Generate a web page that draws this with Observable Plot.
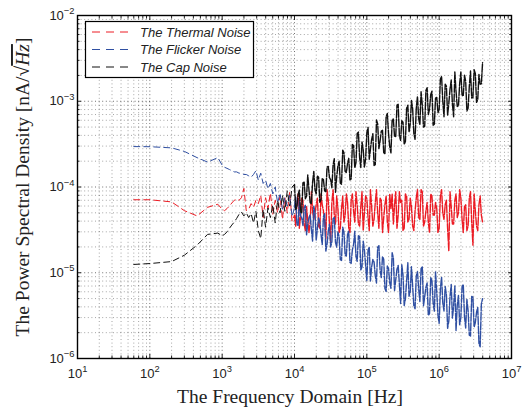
<!DOCTYPE html>
<html><head><meta charset="utf-8">
<script src="https://cdn.jsdelivr.net/npm/d3@7"></script>
<script src="https://cdn.jsdelivr.net/npm/@observablehq/plot@0.6"></script>
<style>body{margin:0;background:#fff}#chart{width:524px;height:410px}</style>
</head><body><div id="chart"></div>
<script>
// Frequencies (Hz)
const freq = [60,100,200,300,450,630,870,
1000,1080,1166,1259,1359,1468,1585,1711,1848,1995,2154,2326,2512,2712,2929,3162,3415,3687,3981,4299,4642,5012,5412,5843,6310,6813,7356,7943,8577,9261,
10000,10391,10798,11220,11659,12115,12589,13081,13594,14125,14678,15252,15849,16469,17113,17783,18478,19201,19953,20733,21544,22387,23263,24173,25119,26102,27123,28184,29286,30432,31623,32860,34145,35481,36869,38311,39811,41369,42987,44668,46416,48232,50119,52080,54117,56234,58434,60720,63096,65564,68129,70795,73564,76442,79433,82540,85770,89125,92612,96235,
100000,103912,107977,112202,116591,121153,125893,130818,135936,141254,146780,152522,158489,164690,171133,177828,184785,192014,199526,207332,215443,223872,232631,241732,251189,261016,271227,281838,292864,304322,316228,328599,341455,354813,368695,383119,398107,413682,429866,446684,464159,482318,501187,520795,541170,562341,584341,607202,630957,655642,681292,707946,735642,764422,794328,825404,857696,891251,926119,962351,
1000000,1039122,1079775,1122018,1165914,1211528,1258925,1308167,1359356,1412538,1467799,1525210,1584893,1646914,1711328,1778279,1847850,1920087,1995262,2073272,2154435,2238721,2326305,2417330,2511886,2610157,2712273,2818383,2928645,3043248,3162278,3285907,3414549,3548134,3686945,3831187,3981072];

// The Thermal Noise
const thermal = [7.1e-5,7.1e-5,6.7e-5,5.3e-5,4.6e-5,5.8e-5,6.3e-5,
5.5e-5,5.3e-5,5.6e-5,6.0e-5,6.5e-5,7.0e-5,7.2e-5,7.0e-5,7.5e-5,9.6e-5,5.3e-5,5.5e-5,6.4e-5,5.8e-5,7.0e-5,6.4e-5,8.0e-5,4.4e-5,7.5e-5,5.6e-5,8.5e-5,4.8e-5,7.0e-5,5.0e-5,8.0e-5,4.2e-5,7.5e-5,5.0e-5,8.8e-5,4.0e-5,
4.7e-5,3.5e-5,6.6e-5,8.3e-5,3.3e-5,4.4e-5,7.4e-5,7.0e-5,3.7e-5,3.1e-5,5.9e-5,4.0e-5,2.95e-5,3.9e-5,8.8e-5,5.2e-5,4.2e-5,5.0e-5,6.2e-5,7.4e-5,
3.5e-5,3.3e-5,8.3e-5,6.2e-5,5.25e-5,4.2e-5,2.5e-5,9.3e-5,7.0e-5,3.7e-5,2.3e-5,6.6e-5,9.3e-5,4.7e-5,3.7e-5,7.85e-5,5.6e-5,2.95e-5,3.3e-5,5.6e-5,
7.85e-5,3.9e-5,4.7e-5,8.3e-5,6.6e-5,3.3e-5,2.95e-5,7.0e-5,8.3e-5,5.25e-5,3.9e-5,8.8e-5,6.2e-5,3.7e-5,3.5e-5,5.9e-5,8.8e-5,3.1e-5,5.0e-5,7.85e-5,
7.4e-5,4.4e-5,3.1e-5,9.3e-5,5.9e-5,3.5e-5,4.2e-5,6.6e-5,9.3e-5,5.0e-5,3.3e-5,7.4e-5,7.0e-5,2.95e-5,4.4e-5,6.2e-5,7.85e-5,3.9e-5,2.95e-5,8.3e-5,
5.6e-5,8.3e-5,3.7e-5,6.2e-5,8.8e-5,3.3e-5,4.7e-5,8.8e-5,6.6e-5,7.0e-5,3.1e-5,3.3e-5,8.3e-5,7.85e-5,3.9e-5,4.2e-5,7.4e-5,5.9e-5,3.5e-5,3.1e-5,
5.25e-5,7.4e-5,9.3e-5,4.4e-5,4.2e-5,9.3e-5,8.8e-5,3.5e-5,3.9e-5,5.25e-5,6.6e-5,3.9e-5,2.95e-5,8.3e-5,7.85e-5,4.7e-5,4.7e-5,6.6e-5,5.6e-5,2.95e-5,
3.3e-5,7.85e-5,9.3e-5,5.0e-5,4.2e-5,6.2e-5,7.0e-5,3.3e-5,1.8e-5,8.8e-5,5.9e-5,3.7e-5,3.7e-5,7.0e-5,8.3e-5,4.4e-5,5.0e-5,9.3e-5,7.4e-5,4.2e-5,
2.95e-5,5.9e-5,6.2e-5,3.1e-5,3.5e-5,7.4e-5,8.8e-5,3.9e-5,2.1e-5,8.3e-5,5.25e-5,3.5e-5,3.1e-5,6.2e-5,7.85e-5,4.7e-5,3.9e-5];

// The Flicker Noise
const flicker = [2.96e-4,2.95e-4,2.86e-4,2.6e-4,2.2e-4,1.95e-4,2.2e-4,
1.8e-4,1.7e-4,1.65e-4,1.6e-4,1.55e-4,1.5e-4,1.5e-4,1.45e-4,1.45e-4,1.4e-4,1.4e-4,1.35e-4,1.3e-4,1.4e-4,1.55e-4,1.2e-4,1.45e-4,1.1e-4,1.2e-4,9.5e-5,1.1e-4,8.3e-5,1.0e-4,6.5e-5,8.5e-5,5.5e-5,7.5e-5,6.0e-5,8.0e-5,4.5e-5,
5.8e-5,7.64e-5,3.66e-5,3.57e-5,6.95e-5,4.62e-5,4.34e-5,3.56e-5,5.7e-5,6.12e-5,2.77e-5,3.73e-5,4.4e-5,4.73e-5,3.18e-5,2.34e-5,5.97e-5,5.07e-5,2.39e-5,3.3e-5,
4.36e-5,3.86e-5,2.8e-5,2.13e-5,4.5e-5,4.89e-5,1.79e-5,2.15e-5,3.04e-5,3.67e-5,2.0e-5,2.3e-5,4.26e-5,4.4e-5,2.27e-5,1.99e-5,2.99e-5,2.63e-5,1.42e-5,1.39e-5,
3.4e-5,2.98e-5,1.61e-5,1.57e-5,2.79e-5,3.04e-5,1.32e-5,1.29e-5,1.85e-5,2.13e-5,3.05e-5,1.55e-5,1.36e-5,2.7e-5,2.64e-5,1.08e-5,1.17e-5,2.34e-5,1.84e-5,1.22e-5,
8.1e-6,1.83e-5,2.0e-5,8.0e-6,1.17e-5,1.43e-5,1.33e-5,9.25e-6,7.6e-6,1.99e-5,2.07e-5,1.07e-5,8.8e-6,1.55e-5,1.44e-5,6.55e-6,6.05e-6,1.2e-5,1.12e-5,7.64e-6,
6.6e-6,1.71e-5,1.49e-5,6.22e-6,8.3e-6,1.1e-5,1.22e-5,7.33e-6,4.37e-6,1.24e-5,9.5e-6,4.15e-6,4.93e-6,8.0e-6,1.31e-5,5.33e-6,5.96e-6,1.18e-5,6.98e-6,4.13e-6,
3.81e-6,9.2e-6,1.03e-5,6.47e-6,4.62e-6,1.12e-5,1.18e-5,4.13e-6,5.27e-6,6.75e-6,7.6e-6,3.18e-6,3.34e-6,8.83e-6,8.1e-6,4.44e-6,3.57e-6,1.02e-5,5.9e-6,3.2e-6,
2.57e-6,6.44e-6,8.9e-6,4.46e-6,3.58e-6,6.92e-6,5.56e-6,2.25e-6,2.72e-6,5.3e-6,7.3e-6,2.96e-6,4.1e-6,7.03e-6,2.12e-6,4.19e-6,5.45e-6,2.48e-6,3.01e-6,6.89e-6,
7.3e-6,3.06e-6,2.27e-6,4.89e-6,3.61e-6,1.87e-6,1.83e-6,5.3e-6,5.2e-6,2.32e-6,2.63e-6,3.46e-6,3.94e-6,1.5e-6,1.37e-6,4.35e-6,4.97e-6];

// The Cap Noise
const cap = [1.25e-5,1.28e-5,1.35e-5,1.6e-5,2.1e-5,2.8e-5,2.9e-5,
2.7e-5,2.8e-5,3.0e-5,3.3e-5,3.6e-5,3.9e-5,4.3e-5,4.8e-5,5.1e-5,4.6e-5,5.0e-5,4.4e-5,4.9e-5,3.8e-5,5.2e-5,3.1e-5,2.5e-5,5.5e-5,3.4e-5,5.7e-5,4.4e-5,6.2e-5,3.8e-5,7.0e-5,5.0e-5,8.0e-5,5.2e-5,9.0e-5,6.0e-5,1.0e-4,
1.07e-4,5.47e-5,5.83e-5,8.2e-5,9.2e-5,5.14e-5,5.0e-5,1.12e-4,1.14e-4,7.3e-5,7.8e-5,1.38e-4,9.3e-5,6.56e-5,6.4e-5,1.13e-4,1.52e-4,9.3e-5,8.3e-5,1.34e-4,
1.3e-4,6.65e-5,7.1e-5,1.26e-4,1.22e-4,9.0e-5,8.8e-5,1.71e-4,1.74e-4,1.29e-4,1.21e-4,9.8e-5,1.8e-4,2.14e-4,8.7e-5,1.32e-4,1.75e-4,2.0e-4,1.11e-4,1.08e-4,
2.69e-4,2.5e-4,1.52e-4,1.48e-4,1.88e-4,2.16e-4,1.21e-4,1.24e-4,3.13e-4,3.05e-4,1.67e-4,1.93e-4,4.2e-4,4.37e-4,2.22e-4,1.69e-4,3.35e-4,2.72e-4,1.71e-4,2.11e-4,
4.3e-4,4.95e-4,2.11e-4,2.77e-4,3.6e-4,4.18e-4,1.78e-4,1.82e-4,6.05e-4,5.45e-4,2.8e-4,3.44e-4,4.5e-4,4.59e-4,2.52e-4,2.42e-4,6.65e-4,7.2e-4,4.2e-4,2.96e-4,
2.5e-4,6.1e-4,6.2e-4,3.85e-4,3.9e-4,9.0e-4,9.2e-4,3.92e-4,3.5e-4,5.93e-4,5.7e-4,3.13e-4,3.4e-4,8.3e-4,9.0e-4,4.37e-4,5.4e-4,1.02e-3,8.2e-4,4.2e-4,
3.6e-4,8.2e-4,1.14e-3,6.26e-4,5.3e-4,1.29e-3,9.1e-4,5.0e-4,5.1e-4,1.33e-3,1.44e-3,7.0e-4,8.1e-4,1.2e-3,1.31e-3,5.25e-4,5.4e-4,1.09e-3,1.11e-3,7.35e-4,
8.0e-4,1.81e-3,1.95e-3,1.0e-3,6.6e-4,1.58e-3,1.5e-3,6.9e-4,9.4e-4,1.38e-3,1.77e-3,9.3e-4,6.6e-4,2.19e-3,1.3e-3,8.7e-4,8.8e-4,1.61e-3,2.19e-3,1.16e-3,
1.17e-3,2.01e-3,1.71e-3,7.7e-4,8.3e-4,1.49e-3,2.25e-3,1.09e-3,1.1e-3,2.33e-3,2.11e-3,9.7e-4,1.04e-3,2.06e-3,1.58e-3,1.6e-3,2.82e-3];

const seriesNames = ["The Thermal Noise","The Flicker Noise","The Cap Noise"];
const seriesColors = ["#ec1c24","#2f4fa2","#111111"];
const xMajor = [1e1,1e2,1e3,1e4,1e5,1e6,1e7];
const yMajor = [1e-6,1e-5,1e-4,1e-3,1e-2];

const mult = [2,3,4,5,6,7,8,9];
const xMinor = xMajor.slice(0,-1).flatMap(d => mult.map(m => m*d));
const yMinor = yMajor.slice(0,-1).flatMap(d => mult.map(m => m*d));

const data = freq.map((f,i) => ({f, thermal: thermal[i], flicker: flicker[i], cap: cap[i]}));
const keys = ["thermal","flicker","cap"];
const fmt = d => "10^" + Math.round(Math.log10(d));
const blank = () => "";
const gridStyle = {stroke:"#000", strokeWidth:0.8, strokeDasharray:"1,2.6"};

const lineMarks = keys.flatMap((k,i) => [
  Plot.lineY(data, {filter: d => d.f <= 10000, x:"f", y:k, stroke:seriesColors[i], strokeWidth:1, strokeDasharray:"6,4"}),
  Plot.lineY(data, {filter: d => d.f >= 10000, x:"f", y:k, stroke:seriesColors[i], strokeWidth:1.4, strokeDasharray:"8,1.5"})
]);

const chart = Plot.plot({
  width: 524, height: 410,
  marginTop: 15, marginRight: 13, marginBottom: 52, marginLeft: 77,
  style: {background:"#fff", fontFamily:"'Liberation Sans', Arial, sans-serif", fontSize:"13px", color:"#222"},
  x: {type:"log", domain:[1e1,1e7], label:null},
  y: {type:"log", domain:[1e-6,1e-2], label:null},
  marks: [
    Plot.ruleX(xMinor, {...gridStyle, strokeOpacity:0.45}),
    Plot.ruleX(xMajor, {...gridStyle, strokeOpacity:0.7}),
    Plot.ruleY(yMinor, {...gridStyle, strokeOpacity:0.45}),
    Plot.ruleY(yMajor, {...gridStyle, strokeOpacity:0.7}),
    ...lineMarks,
    Plot.axisX(xMajor, {anchor:"bottom", tickSize:0, tickPadding:10, tickFormat:fmt, label:null}),
    Plot.axisY(yMajor, {anchor:"left", tickSize:0, tickPadding:3, tickFormat:fmt, label:null}),
    Plot.axisX(xMajor, {anchor:"bottom", tickSize:-4, tickFormat:blank, label:null}),
    Plot.axisX(xMajor, {anchor:"top", tickSize:-4, tickFormat:blank, label:null}),
    Plot.axisX(xMinor, {anchor:"bottom", tickSize:-2.5, tickFormat:blank, label:null}),
    Plot.axisX(xMinor, {anchor:"top", tickSize:-2.5, tickFormat:blank, label:null}),
    Plot.axisY(yMajor, {anchor:"left", tickSize:-4, tickFormat:blank, label:null}),
    Plot.axisY(yMajor, {anchor:"right", tickSize:-4, tickFormat:blank, label:null}),
    Plot.axisY(yMinor, {anchor:"left", tickSize:-2.5, tickFormat:blank, label:null}),
    Plot.axisY(yMinor, {anchor:"right", tickSize:-2.5, tickFormat:blank, label:null}),
    Plot.frame({stroke:"#000", strokeWidth:1.4})
  ]
});
document.getElementById("chart").appendChild(chart);

const svg = d3.select(chart.tagName.toLowerCase() === "svg" ? chart : chart.querySelector("svg"));

// superscript exponents in tick labels
svg.selectAll("text").each(function() {
  const t = d3.select(this);
  if (this.querySelector("tspan")) return;
  const s = t.text();
  if (!/^10\^/.test(s)) return;
  const e = s.split("^")[1].replace("-", "\u2212");
  t.text(null);
  t.append("tspan").text("10");
  t.append("tspan").attr("dy", "-0.6em").attr("font-size", "0.72em").text(e);
});

// axis titles
const serif = "'Liberation Serif', 'Times New Roman', serif";
svg.append("text").attr("x", 290).attr("y", 403).attr("text-anchor", "middle")
  .attr("font-family", serif).attr("font-size", 19.5).attr("fill", "#222")
  .text("The Frequency Domain [Hz]");
const yt = svg.append("text").attr("transform", "translate(29,187) rotate(-90)")
  .attr("text-anchor", "middle").attr("font-family", serif).attr("font-size", 19.5).attr("fill", "#222");
yt.append("tspan").text("The Power Spectral Density [nA/\u221A");
yt.append("tspan").attr("font-style", "italic").attr("text-decoration", "overline").text("Hz");
yt.append("tspan").text("]");

// legend
const lg = svg.append("g");
lg.append("rect").attr("x", 85.5).attr("y", 21.5).attr("width", 168).attr("height", 56)
  .attr("fill", "#fff").attr("stroke", "#000").attr("stroke-width", 1.2);
seriesNames.forEach((name, i) => {
  const y = 32 + i * 17.5;
  lg.append("line").attr("x1", 92).attr("x2", 132).attr("y1", y).attr("y2", y)
    .attr("stroke", seriesColors[i]).attr("stroke-width", 1).attr("stroke-dasharray", "8,6");
  lg.append("text").attr("x", 140).attr("y", y + 4.5).attr("text-anchor", "start")
    .attr("font-style", "italic").attr("font-size", 13)
    .attr("font-family", "'Liberation Sans', Arial, sans-serif")
    .attr("fill", "#222").text(name);
});
</script></body></html>
